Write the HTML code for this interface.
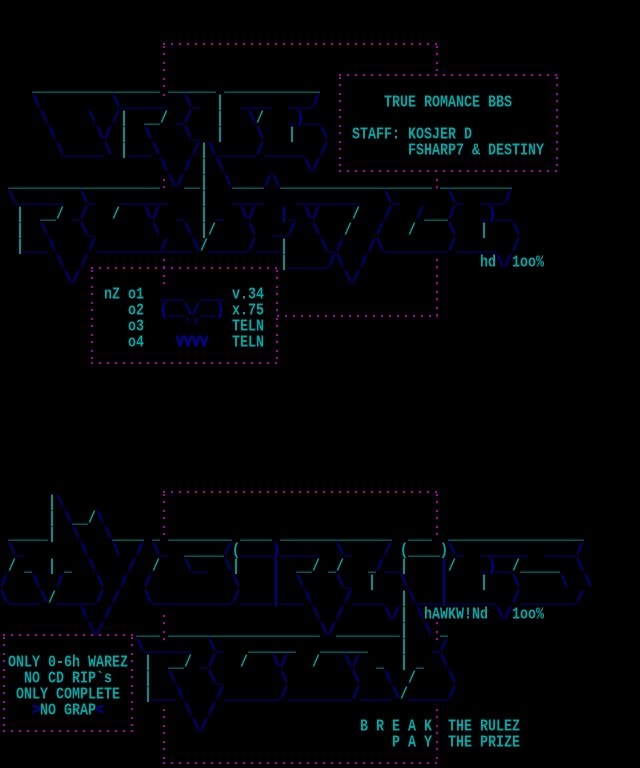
<!DOCTYPE html>
<html><head><meta charset="utf-8"><style>
html,body{margin:0;padding:0;background:#000;}
#w{position:relative;width:640px;height:768px;overflow:hidden;background:#000;font-family:"Liberation Mono",monospace;font-size:13.33px;line-height:16px;font-weight:bold;}
#w i{position:absolute;font-style:normal;white-space:pre;color:#0000b0;transform:scaleY(1.25);transform-origin:50% 50%;}
#w i.c{color:#00a8a8;}
#w i.m{color:#a800a8;}
.h{position:absolute;height:2px;background:linear-gradient(to right,#a800a8 2px,transparent 2px) 0 0/8px 2px repeat-x;}
.v{position:absolute;width:2px;background:linear-gradient(to bottom,transparent 3px,#a800a8 3px,#a800a8 5px,transparent 5px,transparent 10px,#a800a8 10px,#a800a8 12px,transparent 12px) 0 0/2px 16px repeat-y;}
</style></head><body><div id="w">
<div class="h" style="left:163px;top:43px;width:275px"></div>
<div class="v" style="left:163px;top:43px;height:53px"></div>
<div class="v" style="left:163px;top:176px;height:16px"></div>
<div class="v" style="left:163px;top:256px;height:32px"></div>
<div class="v" style="left:436px;top:43px;height:32px"></div>
<div class="v" style="left:436px;top:176px;height:16px"></div>
<div class="v" style="left:436px;top:256px;height:60px"></div>
<div class="h" style="left:277px;top:315px;width:161px"></div>
<div class="h" style="left:339px;top:74px;width:219px"></div>
<div class="h" style="left:339px;top:170px;width:219px"></div>
<div class="v" style="left:339px;top:74px;height:98px"></div>
<div class="v" style="left:556px;top:74px;height:98px"></div>
<div class="h" style="left:91px;top:267px;width:188px"></div>
<div class="h" style="left:91px;top:362px;width:188px"></div>
<div class="v" style="left:91px;top:267px;height:97px"></div>
<div class="v" style="left:276px;top:267px;height:97px"></div>

<div class="h" style="left:163px;top:491px;width:275px"></div>
<div class="v" style="left:163px;top:491px;height:50px"></div>
<div class="v" style="left:436px;top:491px;height:50px"></div>
<div class="v" style="left:163px;top:612px;height:28px"></div>
<div class="v" style="left:436px;top:612px;height:28px"></div>
<div class="v" style="left:163px;top:706px;height:58px"></div>
<div class="v" style="left:436px;top:706px;height:58px"></div>
<div class="h" style="left:163px;top:762px;width:275px"></div>
<div class="h" style="left:3px;top:634px;width:130px"></div>
<div class="h" style="left:3px;top:730px;width:130px"></div>
<div class="v" style="left:3px;top:634px;height:98px"></div>
<div class="v" style="left:131px;top:634px;height:98px"></div>

<i class="c" style="left:32px;top:80px">________________</i>
<i class="c" style="left:168px;top:80px">______</i>
<i class="c" style="left:224px;top:80px">____________</i>

<i style="left:32px;top:96px">\</i><i style="left:112px;top:96px">\______</i><i style="left:184px;top:96px">\_</i><i class="c" style="left:216px;top:96px">|</i><i style="left:240px;top:96px">____</i><i style="left:288px;top:96px">___/</i>
<i class="c" style="left:384px;top:96px">TRUE ROMANCE BBS</i>

<i style="left:40px;top:112px">\</i><i style="left:88px;top:112px">\</i><i style="left:112px;top:112px">/</i><i class="c" style="left:120px;top:112px">|</i><i class="c" style="left:144px;top:112px">__/</i><i style="left:176px;top:112px">_/</i><i class="c" style="left:216px;top:112px">|</i><i style="left:248px;top:112px">\</i><i class="c" style="left:256px;top:112px">/</i><i style="left:288px;top:112px">_)__</i>

<i style="left:48px;top:128px">\</i><i style="left:96px;top:128px">\/</i><i class="c" style="left:120px;top:128px">|</i><i style="left:144px;top:128px">\</i><i style="left:184px;top:128px">\_</i><i class="c" style="left:216px;top:128px">|</i><i style="left:256px;top:128px">\</i><i class="c" style="left:288px;top:128px">|</i><i style="left:320px;top:128px">\</i>
<i class="c" style="left:352px;top:128px">STAFF: KOSJER D</i>

<i style="left:56px;top:144px">\_____\</i><i class="c" style="left:120px;top:144px">|</i><i style="left:128px;top:144px">___\</i><i style="left:192px;top:144px">/</i><i class="c" style="left:200px;top:144px">|</i><i style="left:208px;top:144px">\_____/</i><i style="left:264px;top:144px">_____</i><i style="left:320px;top:144px">/</i>
<i class="c" style="left:408px;top:144px">FSHARP7 &amp; DESTINY</i>

<i style="left:160px;top:160px">\</i><i style="left:184px;top:160px">/</i><i class="c" style="left:200px;top:160px">|</i><i style="left:216px;top:160px">\</i><i style="left:304px;top:160px">\/</i>

<i class="c" style="left:8px;top:176px">___________________</i><i style="left:168px;top:176px">\/</i><i class="c" style="left:184px;top:176px">__</i><i class="c" style="left:200px;top:176px">|</i><i style="left:224px;top:176px">\</i><i class="c" style="left:232px;top:176px">____</i><i style="left:264px;top:176px">/\</i><i class="c" style="left:280px;top:176px">___________________</i><i class="c" style="left:440px;top:176px">_________</i>

<i style="left:8px;top:192px">\______</i><i style="left:80px;top:192px">\_</i><i style="left:120px;top:192px">______</i><i class="c" style="left:200px;top:192px">|</i><i style="left:232px;top:192px">____</i><i style="left:296px;top:192px">________</i><i style="left:384px;top:192px">\_</i><i style="left:448px;top:192px">\_</i><i style="left:480px;top:192px">___/</i>

<i class="c" style="left:16px;top:208px">|</i><i class="c" style="left:40px;top:208px">__/</i><i style="left:72px;top:208px">_/</i><i class="c" style="left:112px;top:208px">/</i><i style="left:144px;top:208px">\/</i><i style="left:176px;top:208px">_</i><i class="c" style="left:200px;top:208px">|</i><i style="left:216px;top:208px">_</i><i style="left:240px;top:208px">\/</i><i style="left:280px;top:208px">|_</i><i style="left:304px;top:208px">\/</i><i class="c" style="left:352px;top:208px">/</i><i style="left:384px;top:208px">/</i><i style="left:416px;top:208px">/</i><i class="c" style="left:424px;top:208px">___</i><i style="left:448px;top:208px">/</i><i style="left:480px;top:208px">_)__</i>

<i class="c" style="left:16px;top:224px">|</i><i style="left:40px;top:224px">\</i><i style="left:80px;top:224px">\_</i><i style="left:152px;top:224px">\</i><i style="left:184px;top:224px">\</i><i class="c" style="left:200px;top:224px">|</i><i class="c" style="left:208px;top:224px">/</i><i style="left:248px;top:224px">\</i><i style="left:272px;top:224px">__/</i><i style="left:312px;top:224px">\</i><i class="c" style="left:344px;top:224px">/</i><i style="left:376px;top:224px">/</i><i class="c" style="left:408px;top:224px">/</i><i style="left:448px;top:224px">\</i><i class="c" style="left:480px;top:224px">|</i><i style="left:512px;top:224px">\</i>

<i class="c" style="left:16px;top:240px">|</i><i style="left:24px;top:240px">___\</i><i style="left:88px;top:240px">/________/</i><i style="left:160px;top:240px">____\</i><i class="c" style="left:200px;top:240px">/</i><i style="left:208px;top:240px">_____/</i><i style="left:256px;top:240px">___</i><i class="c" style="left:280px;top:240px">|</i><i style="left:320px;top:240px">\_/</i><i style="left:368px;top:240px">/\________/</i><i style="left:456px;top:240px">_____</i><i style="left:512px;top:240px">/</i>

<i style="left:56px;top:256px">\</i><i style="left:80px;top:256px">/</i><i class="c" style="left:280px;top:256px">|</i><i style="left:288px;top:256px">_____/\</i><i style="left:360px;top:256px">/</i>
<i class="c" style="left:480px;top:256px">hd<span style="color:#0000b0">\/</span>1oo%</i>

<i style="left:64px;top:272px">\/</i><i style="left:344px;top:272px">\/</i>

<i class="c" style="left:104px;top:288px">nZ o1</i><i style="left:160px;top:288px">___</i><i style="left:200px;top:288px">___</i><i class="c" style="left:232px;top:288px">v.34</i>
<i class="c" style="left:128px;top:304px">o2</i><i style="left:160px;top:304px">(__\/__)</i><i class="c" style="left:232px;top:304px">x.75</i>
<i class="c" style="left:128px;top:320px">o3</i><i style="left:184px;top:320px">`'</i><i class="c" style="left:232px;top:320px">TELN</i>
<i class="c" style="left:128px;top:336px">o4</i><i style="left:176px;top:336px">VVVV</i><i class="c" style="left:232px;top:336px">TELN</i>

<i class="c" style="left:48px;top:496px">|</i><i style="left:56px;top:496px">\</i>
<i class="c" style="left:48px;top:512px">|</i><i style="left:64px;top:512px">\</i><i class="c" style="left:72px;top:512px">__/</i><i style="left:96px;top:512px">\</i>

<i class="c" style="left:8px;top:528px">_____</i><i class="c" style="left:48px;top:528px">|</i><i style="left:72px;top:528px">\</i><i style="left:104px;top:528px">\</i><i class="c" style="left:112px;top:528px">____</i><i class="c" style="left:152px;top:528px">_</i><i class="c" style="left:168px;top:528px">________</i><i class="c" style="left:240px;top:528px">____</i><i class="c" style="left:280px;top:528px">______________</i><i class="c" style="left:408px;top:528px">___</i><i class="c" style="left:448px;top:528px">_________________</i>

<i style="left:8px;top:544px">\_</i><i style="left:80px;top:544px">\</i><i style="left:112px;top:544px">\</i><i style="left:136px;top:544px">/</i><i style="left:152px;top:544px">\_</i><i class="c" style="left:184px;top:544px">_____</i><i style="left:224px;top:544px">/</i><i class="c" style="left:232px;top:544px">(</i><i style="left:240px;top:544px">____)</i><i style="left:280px;top:544px">_____</i><i style="left:336px;top:544px">\_</i><i style="left:384px;top:544px">/</i><i class="c" style="left:400px;top:544px">(____)</i><i style="left:448px;top:544px">\_</i><i style="left:480px;top:544px">______</i><i style="left:544px;top:544px">____/</i>

<i class="c" style="left:8px;top:560px">/</i><i class="c" style="left:24px;top:560px">_</i><i class="c" style="left:48px;top:560px">|</i><i class="c" style="left:64px;top:560px">_</i><i style="left:88px;top:560px">\</i><i style="left:128px;top:560px">/</i><i class="c" style="left:152px;top:560px">/</i><i style="left:184px;top:560px">\__</i><i style="left:224px;top:560px">\</i><i class="c" style="left:232px;top:560px">|</i><i style="left:272px;top:560px">|</i><i class="c" style="left:296px;top:560px">__/</i><i class="c" style="left:328px;top:560px">_/</i><i class="c" style="left:368px;top:560px">_</i><i style="left:376px;top:560px">/__</i><i class="c" style="left:400px;top:560px">|</i><i style="left:440px;top:560px">|</i><i class="c" style="left:448px;top:560px">/</i><i style="left:480px;top:560px">_)__</i><i class="c" style="left:512px;top:560px">/_____</i><i style="left:576px;top:560px">\</i>

<i style="left:0px;top:576px">/</i><i style="left:32px;top:576px">\</i><i style="left:56px;top:576px">/</i><i style="left:96px;top:576px">\</i><i style="left:120px;top:576px">/</i><i style="left:144px;top:576px">/</i><i style="left:232px;top:576px">\</i><i style="left:272px;top:576px">|</i><i style="left:296px;top:576px">\</i><i style="left:336px;top:576px">\_</i><i class="c" style="left:368px;top:576px">|</i><i style="left:400px;top:576px">\</i><i style="left:440px;top:576px">|</i><i class="c" style="left:480px;top:576px">|</i><i style="left:512px;top:576px">\</i><i style="left:560px;top:576px">\</i><i style="left:584px;top:576px">\</i>

<i style="left:0px;top:592px">\____\</i><i class="c" style="left:48px;top:592px">/</i><i style="left:56px;top:592px">_____/</i><i style="left:112px;top:592px">/</i><i style="left:144px;top:592px">\__________/</i><i style="left:240px;top:592px">____|___\</i><i style="left:344px;top:592px">/____</i><i class="c" style="left:400px;top:592px">|</i><i style="left:408px;top:592px">\___|______</i><i style="left:512px;top:592px">/_______/</i>

<i style="left:80px;top:608px">\</i><i style="left:104px;top:608px">/</i><i style="left:312px;top:608px">\</i><i style="left:336px;top:608px">/</i><i style="left:384px;top:608px">\/</i><i class="c" style="left:400px;top:608px">|</i><i style="left:416px;top:608px">\</i><i class="c" style="left:424px;top:608px">hAWKW!Nd <span style="color:#0000b0">\/</span>1oo%</i>

<i style="left:88px;top:624px">\/</i><i class="c" style="left:136px;top:624px">___</i><i class="c" style="left:168px;top:624px">___________________</i><i style="left:320px;top:624px">\/</i><i class="c" style="left:336px;top:624px">________</i><i class="c" style="left:400px;top:624px">|</i><i style="left:424px;top:624px">\</i><i class="c" style="left:440px;top:624px">_</i>

<i style="left:136px;top:640px">\______</i><i style="left:208px;top:640px">\_</i><i class="c" style="left:248px;top:640px">______</i><i class="c" style="left:320px;top:640px">______</i><i class="c" style="left:400px;top:640px">|</i><i style="left:432px;top:640px">_/</i>

<i class="c" style="left:8px;top:656px">ONLY 0-6h WAREZ</i><i class="c" style="left:144px;top:656px">|</i><i class="c" style="left:168px;top:656px">__/</i><i style="left:200px;top:656px">_/</i><i class="c" style="left:240px;top:656px">/</i><i style="left:272px;top:656px">\/</i><i class="c" style="left:312px;top:656px">/</i><i style="left:344px;top:656px">\/</i><i class="c" style="left:376px;top:656px">_</i><i class="c" style="left:400px;top:656px">|</i><i class="c" style="left:416px;top:656px">_</i><i style="left:440px;top:656px">\</i>

<i class="c" style="left:24px;top:672px">NO CD RIP`s</i><i class="c" style="left:144px;top:672px">|</i><i style="left:168px;top:672px">\</i><i style="left:208px;top:672px">\_</i><i style="left:280px;top:672px">\</i><i style="left:352px;top:672px">\</i><i style="left:384px;top:672px">\</i><i class="c" style="left:408px;top:672px">/</i><i style="left:448px;top:672px">\</i>

<i class="c" style="left:16px;top:688px">ONLY COMPLETE</i><i class="c" style="left:144px;top:688px">|</i><i style="left:152px;top:688px">___\</i><i style="left:216px;top:688px">/_______/________/____\</i><i class="c" style="left:400px;top:688px">/</i><i style="left:408px;top:688px">_____/</i>

<i class="c" style="left:32px;top:704px"><span style="color:#0000b0">&gt;</span>NO GRAP<span style="color:#0000b0">&lt;</span></i><i style="left:184px;top:704px">\</i><i style="left:208px;top:704px">/</i>

<i style="left:192px;top:720px">\/</i><i class="c" style="left:360px;top:720px">B R E A K</i><i class="c" style="left:448px;top:720px">THE RULEZ</i>
<i class="c" style="left:392px;top:736px">P A Y</i><i class="c" style="left:448px;top:736px">THE PRIZE</i>
</div></body></html>
